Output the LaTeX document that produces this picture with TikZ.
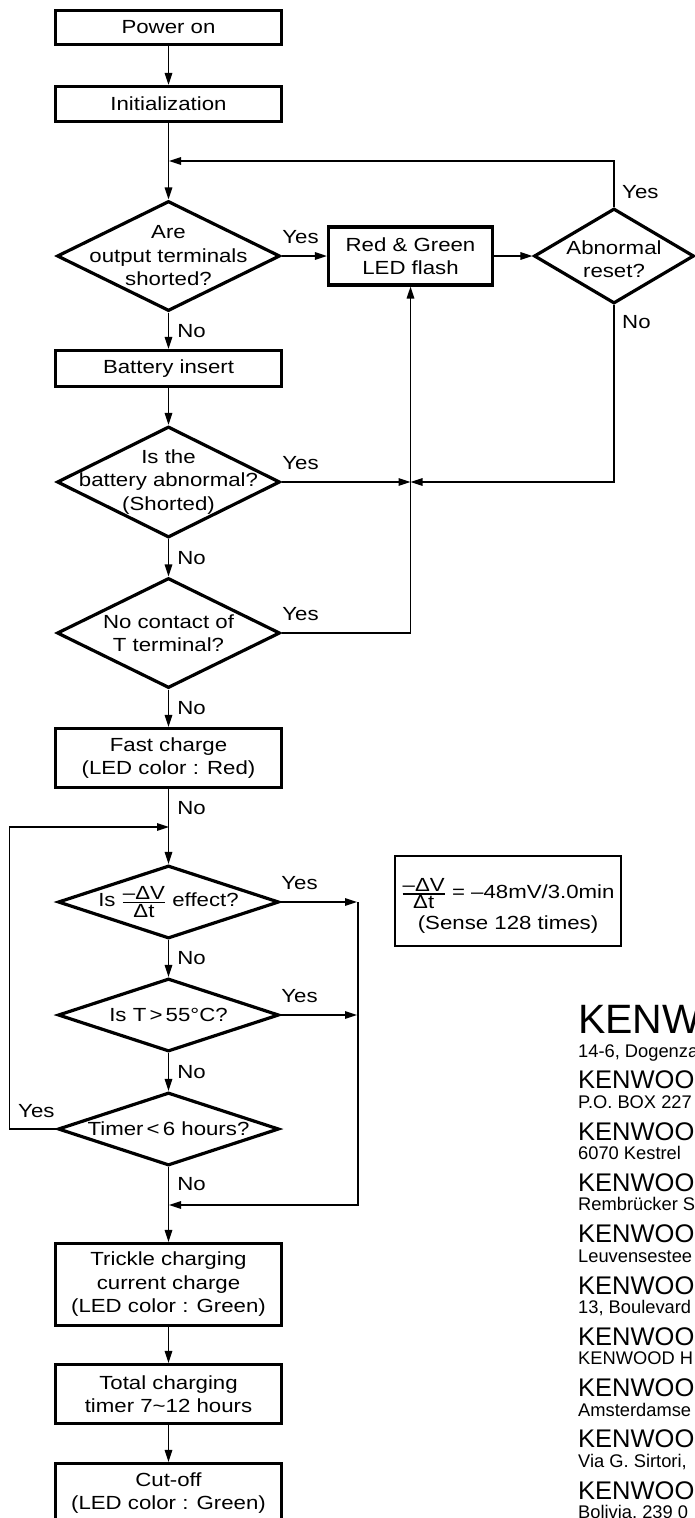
\documentclass[tikz,border=0pt]{standalone}
\usepackage{amsmath}
\usepackage{fontspec}
\setmainfont{Liberation Sans}[FakeStretch=1.17]
\newfontfamily\addrfont{Liberation Sans}
\usetikzlibrary{arrows.meta,shapes.geometric}

\begin{document}
\begin{tikzpicture}[
      x=1pt, y=-1pt,
      font=\fontsize{19}{23.5}\selectfont,
      box/.style={
          rectangle, draw, line width=3.2pt,
          align=center, inner sep=0pt,
          minimum width=226pt, minimum height=34pt
        },
      decision/.style={
          diamond, draw, line width=3.2pt, inner sep=0pt,
          minimum width=221pt, minimum height=73pt   % the three short ones
        },
      dtext/.style={align=center, inner sep=0pt},
      conn/.style={draw, line width=1.5pt, -{Triangle[length=12pt,width=7.5pt]}},
      no/.style={anchor=west, inner sep=0pt, xshift=8pt},
      yes/.style={anchor=south west, inner sep=0pt, yshift=12pt},
      lbl/.style={inner sep=0pt},
      addr/.style={anchor=base west, inner sep=0pt, font=\addrfont\fontsize{18.3}{20}\selectfont},
      firm/.style={anchor=base west, inner sep=0pt, font=\addrfont\fontsize{25.5}{28}\selectfont},
    ]
    \clip (0,0) rectangle (695,1518);

    \node[box] (power) at (168.5,27.5) {Power on};
    \node[box, minimum height=35pt] (init) at (168.5,104) {Initialization};
    \node[decision, minimum width=223pt, minimum height=110pt] (short) at (168.5,256) {};
    \node[dtext] (shortt) at (short) {Are\\output terminals\\shorted?};
    \node[box, minimum width=164pt, minimum height=58pt] (flash) at (410.5,256) {Red \& Green\\LED flash};
    \node[decision, minimum width=160pt, minimum height=95pt] (abn) at (614,256) {};
    \node[dtext] (abnt) at (614,259) {Abnormal\\reset?};
    \node[box, minimum height=36pt] (batt) at (168.5,368.5) {Battery insert};
    \node[decision, minimum width=223pt, minimum height=111pt] (isbat) at (168.5,482) {};
    \node[dtext] (isbatt) at (isbat) {Is the\\battery abnormal?\\(Shorted)};
    \node[decision, minimum width=223pt, minimum height=110pt] (tcon) at (168.5,633) {};
    \node[dtext] (tcont) at (tcon) {No contact of\\T terminal?};
    \node[box, minimum height=59pt] (fast) at (168.5,758) {Fast charge\\(LED color : Red)};
    \node[decision] (dv) at (168.5,902) {};
    \node[dtext] (dvt) at (dv) {Is \(\genfrac{}{}{1.2pt}{1}{\mbox{–ΔV}}{\mbox{Δt}}\) effect?};
    \node[box, line width=2.4pt, minimum width=226pt, minimum height=90pt] (note) at (508,901) {};
    \node[dtext] (notet) at (508,906)
      {\(\genfrac{}{}{1.2pt}{1}{\mbox{–ΔV}}{\mbox{Δt}}\) = –48mV/3.0min\\[6pt](Sense 128 times)};
    \node[decision] (t55) at (168.5,1015) {};
    \node[dtext] (t55t) at (t55) {Is T{\,}>{\,}55°C?};
    \node[decision] (timer) at (168.5,1129) {};
    \node[dtext] (timert) at (timer) {Timer{\,}<{\,}6 hours?};
    \node[box, minimum height=82pt] (trick) at (168.5,1284.5) {Trickle charging\\current charge\\(LED color : Green)};
    \node[box, minimum height=59pt] (total) at (168.5,1394) {Total charging\\timer 7\textasciitilde 12 hours};
    \node[box, minimum height=59pt] (cut) at (168.5,1493) {Cut-off\\(LED color : Green)};

    \coordinate (m1) at (169,161);
    \coordinate (j1) at (410.5,482);
    \coordinate (m2) at (169,827);
    \coordinate (lp) at (9.5,827);
    \coordinate (c1) at (357,902);
    \coordinate (r1) at (358,902);
    \coordinate (c2) at (357,1015);
    \coordinate (m3) at (169,1205);

    \draw[conn] (power) -- (init);
    \draw[conn] (init) -- (short);
    \draw[conn] (abn.north) |- (m1);
    \draw[conn] (short.east) -- node[yes, pos=0] (y1) {Yes} (flash.west);
    \draw[conn] (flash.east) -- (abn.west);
    \node[lbl, anchor=west] (y2) at (622,192) {Yes};
    \node[lbl, anchor=west] (n2) at (622,322) {No};
    \draw[conn] (short) -- node[no] (n1) {No} (batt);
    \draw[conn] (batt) -- (isbat);
    \draw[conn] (isbat.east) -- node[yes, pos=0] (y3) {Yes} (j1);
    \draw[conn] (abn.south) |- (j1);
    \draw[conn] (isbat) -- node[no] (n3) {No} (tcon);
    \draw[conn] (tcon.east) -| node[yes, pos=0] (y4) {Yes} (flash.south);
    \draw[conn] (tcon) -- node[no] (n4) {No} (fast);
    \draw[conn] (fast) -- node[no, pos=.25] (n5) {No} (dv);
    \draw[conn] (dv.east) -- node[yes, pos=0] (y5) {Yes} (c1);
    \draw[conn] (r1) |- (m3);
    \draw[conn] (dv) -- node[no] (n6) {No} (t55);
    \draw[conn] (t55.east) -- node[yes, pos=0] (y6) {Yes} (c2);
    \draw[conn] (t55) -- node[no] (n7) {No} (timer);
    \draw[conn] (timer.west) -| (lp) -- (m2);
    \node[lbl, anchor=west] (y7) at (18,1111) {Yes};
    \draw[conn] (timer) -- node[no, pos=.22] (n8) {No} (trick);
    \draw[conn] (trick) -- (total);
    \draw[conn] (total) -- (cut);

    % addresses cut by the page edge
    \node[firm, font=\addrfont\fontsize{41}{42}\selectfont] (co0) at (578,1033) {KENW};
    \foreach \k in {1,...,9}
      \node[firm] (co\k) at (578,{1037.5+51.3*\k}) {KENWOO};
    \foreach \addr [count=\k from 0] in {{14-6, Dogenza},{P.O. BOX 227},{6070 Kestrel},{Rembrücker S},
        {Leuvensestee},{13, Boulevard},{KENWOOD H},{Amsterdamse},{Via G. Sirtori,},{Bolivia, 239 0}}
      \node[addr] (ad\k) at (578,{1057+51.3*\k}) {\addr};
  \end{tikzpicture}
\end{document}
